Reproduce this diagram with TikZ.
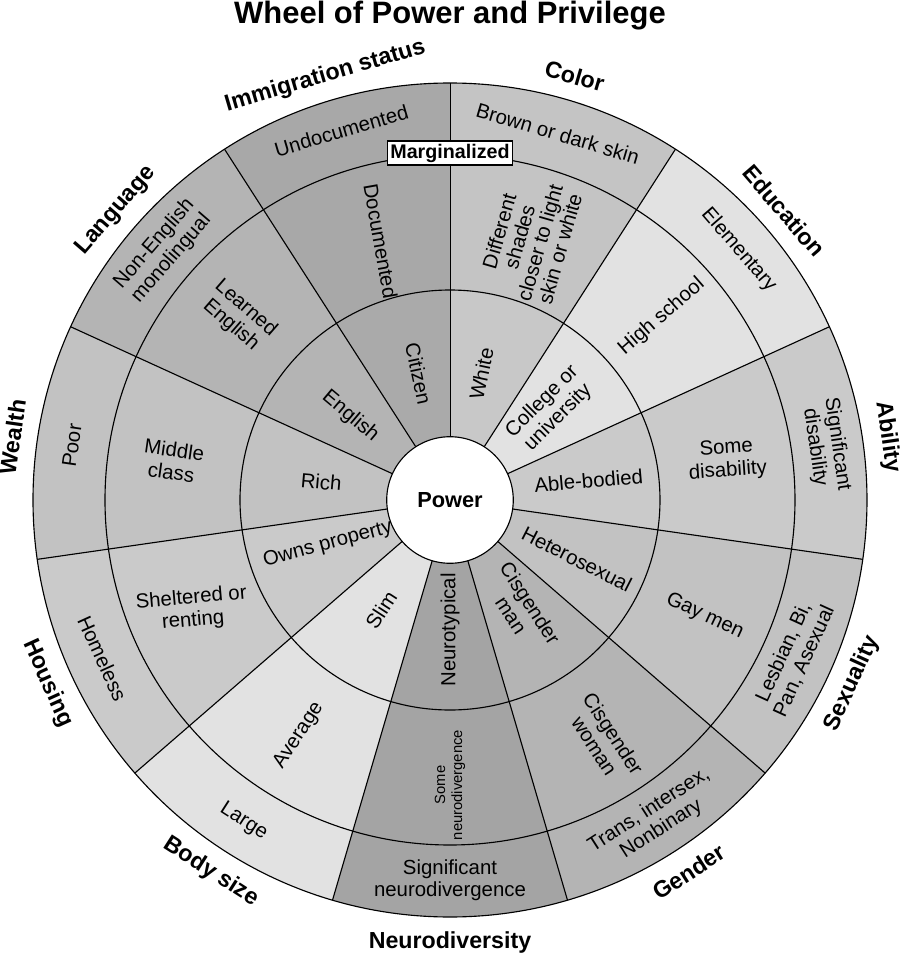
\documentclass[tikz,border=0pt]{standalone}
\usepackage{fontspec}
\setmainfont{Liberation Sans}
\begin{document}
\begin{tikzpicture}[x=0.025cm,y=0.025cm,
	cell/.style={font=\fontsize{14.5}{16}\selectfont,align=center,inner sep=0pt},
	cat/.style={font=\fontsize{16.5}{18}\selectfont\bfseries,inner sep=0pt}]
	\useasboundingbox (-450,-456) rectangle (450,500);
	\def\w{32.7273}
	
	% sectors, clockwise from the top
	\foreach \i/\ci/\cm/\co in {0/c8c8c8/c4c4c4/c4c4c4, 1/e2e2e2/e2e2e2/e2e2e2, 2/cacaca/cacaca/cacaca,
		3/c2c2c2/c2c2c2/c2c2c2, 4/b4b4b4/b4b4b4/b4b4b4, 5/a4a4a4/a4a4a4/a4a4a4, 6/e2e2e2/e2e2e2/e2e2e2,
		7/cacaca/cacaca/cacaca, 8/c2c2c2/c2c2c2/c2c2c2, 9/b4b4b4/b4b4b4/b4b4b4, 10/aaaaaa/a8a8a8/a8a8a8} {
		\pgfmathsetmacro\a{90-\w*\i}
		\pgfmathsetmacro\b{\a-\w}
		\definecolor{shadein}{HTML}{\ci}\definecolor{shademid}{HTML}{\cm}\definecolor{shadeout}{HTML}{\co}
		\fill[shadeout] (\a:345) arc (\a:\b:345) -- (\b:417) arc (\b:\a:417) -- cycle;
		\fill[shademid] (\a:210) arc (\a:\b:210) -- (\b:345) arc (\b:\a:345) -- cycle;
		\fill[shadein] (0,0) -- (\a:210) arc (\a:\b:210) -- cycle;
		\draw[thick] (0,0) -- (\a:417);
	}
	\draw[thick] (0,0) circle (210) circle (345) circle (417);
	\node[circle,draw,thick,fill=white,minimum size=90,inner sep=0pt,font=\fontsize{15.5}{18}\selectfont\bfseries] (power) at (0,0) {Power};
	
	\node[font=\fontsize{22}{24}\selectfont\bfseries] (title) at (0,484) {Wheel of Power and Privilege};
	\node[draw,thick,fill=white,font=\fontsize{14}{16}\selectfont\bfseries,inner sep=2pt] (marg) at (0,347) {Marginalized};
	
	% categories
	\node[cat,rotate=-16.4] (color) at (73.6:442) {Color};
	\node[cat,rotate=-49.1] (educ) at (40.9:442) {Education};
	\node[cat,rotate=-81.8] (abil) at (8.2:442) {Ability};
	\node[cat,rotate=65.5] (sexu) at (-24.5:442) {Sexuality};
	\node[cat,rotate=32.7] (gend) at (-57.3:442) {Gender};
	\node[cat] (neuro) at (0,-442) {Neurodiversity};
	\node[cat,rotate=-32.7] (body) at (-122.7:442) {Body size};
	\node[cat,rotate=-65.5] (hous) at (-155.5:442) {Housing};
	\node[cat,rotate=81.8] (wealth) at (171.8:442) {Wealth};
	\node[cat,rotate=49.1] (lang) at (139.1:442) {Language};
	\node[cat,rotate=16.4] (immi) at (106.4:442) {Immigration status};
	
	% inner ring
	\node[cell,rotate=78] (white) at (76:130) {White};
	\node[cell,rotate=45] (college) at (42:135) {College or\\university};
	\node[cell,rotate=5] (able) at (8:140) {Able-bodied};
	\node[cell,rotate=-27] (hetero) at (-25:140) {Heterosexual};
	\node[cell,rotate=-57] (cisman) at (-57:130) {Cisgender\\man};
	\node[cell,rotate=90] (neurotyp) at (-90:130) {Neurotypical};
	\node[cell,rotate=57] (slim) at (-122:130) {Slim};
	\node[cell,rotate=15] (owns) at (-160:130) {Owns property};
	\node[cell,rotate=-5] (rich) at (172:130) {Rich};
	\node[cell,rotate=-40] (english) at (140:130) {English};
	\node[cell,rotate=-78] (citizen) at (104:130) {Citizen};
	
	% middle ring
	\node[cell,rotate=74,font=\fontsize{14.5}{15}\selectfont] (shades) at (73:272) {Different\\shades\\closer to light\\skin or white};
	\node[cell,rotate=41] (high) at (40.9:280) {High school};
	\node[cell,rotate=4] (some) at (8.2:280) {Some\\disability};
	\node[cell,rotate=-25] (gay) at (-24.5:280) {Gay men};
	\node[cell,rotate=-57] (ciswoman) at (-57.3:285) {Cisgender\\woman};
	\node[cell,rotate=90,font=\fontsize{10.5}{12}\selectfont] (someneuro) at (-90:285) {Some\\neurodivergence};
	\node[cell,rotate=57] (average) at (-122.7:280) {Average};
	\node[cell,rotate=5] (shelter) at (-157:280) {Sheltered or\\renting};
	\node[cell,rotate=-8] (middle) at (172:280) {Middle\\class};
	\node[cell,rotate=-41] (learned) at (139.1:280) {Learned\\English};
	\node[cell,rotate=-80] (docu) at (105:268) {Documented};
	
	% outer ring
	\node[cell,rotate=-16.4] (brown) at (73.6:382) {Brown or dark skin};
	\node[cell,rotate=-49.1] (elem) at (40.9:382) {Elementary};
	\node[cell,rotate=-81.8] (signif) at (8.2:380) {Significant\\disability};
	\node[cell,rotate=65.5] (lesbian) at (-24.5:378) {Lesbian, Bi,\\Pan, Asexual};
	\node[cell,rotate=32.7] (trans) at (-57.3:380) {Trans, intersex,\\Nonbinary};
	\node[cell] (sigdiv) at (0,-380) {Significant\\neurodivergence};
	\node[cell,rotate=-32.7] (large) at (-122.7:382) {Large};
	\node[cell,rotate=-65.5] (homeless) at (-155.5:382) {Homeless};
	\node[cell,rotate=81.8] (poor) at (171.8:382) {Poor};
	\node[cell,rotate=49.1] (nonenglish) at (139.1:380) {Non-English\\monolingual};
	\node[cell,rotate=16.4] (undoc) at (106.4:385) {Undocumented};
\end{tikzpicture}
\end{document}
